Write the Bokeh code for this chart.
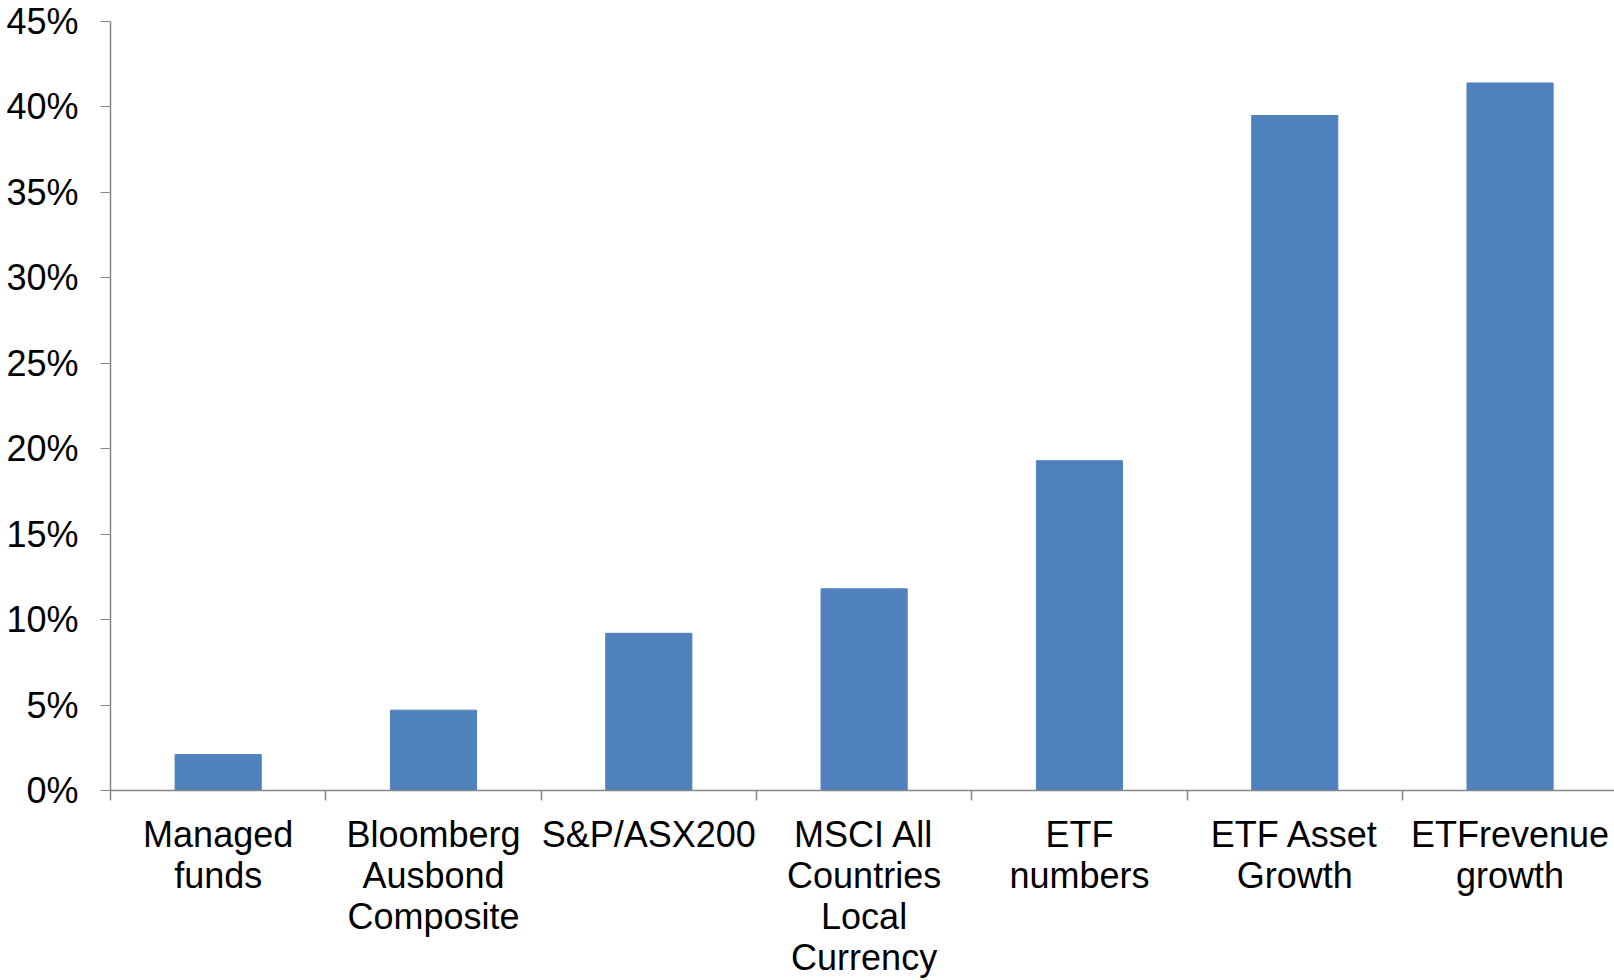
from bokeh.plotting import figure
from bokeh.models import FixedTicker, PrintfTickFormatter, Range1d, ColumnDataSource
from bokeh.embed import file_html
from bokeh.resources import INLINE

categories = ["Managed\nfunds", "Bloomberg\nAusbond\nComposite", "S&P/ASX200",
              "MSCI All\nCountries\nLocal\nCurrency", "ETF\nnumbers",
              "ETF Asset\nGrowth", "ETFrevenue\ngrowth"]
values = [2.1, 4.7, 9.2, 11.8, 19.3, 39.5, 41.4]
y_ticks = [0, 5, 10, 15, 20, 25, 30, 35, 40, 45]

xs = list(range(len(categories)))
src = ColumnDataSource(dict(x=xs, top=values))

FONT = "Liberation Sans"

p = figure(width=1614, height=980, output_backend="svg", toolbar_location=None,
           x_range=Range1d(-0.5, len(categories) - 0.515), y_range=Range1d(0, 45),
           min_border_left=110, min_border_top=21, min_border_right=0, min_border_bottom=0)
p.outline_line_color = None
p.xgrid.grid_line_color = None
p.ygrid.grid_line_color = None

p.vbar(x="x", top="top", width=0.4, bottom=0, source=src,
       fill_color="#4F81BD", line_color="#4F81BD", line_width=1)

# y axis
p.yaxis.ticker = FixedTicker(ticks=y_ticks)
p.yaxis.formatter = PrintfTickFormatter(format="%d%%")
p.yaxis.axis_line_color = "#868686"
p.yaxis.major_tick_line_color = "#868686"
p.yaxis.major_tick_in = 0
p.yaxis.major_tick_out = 10
p.yaxis.minor_tick_line_color = None
p.yaxis.major_label_standoff = 22
p.yaxis.major_label_text_font = FONT
p.yaxis.major_label_text_font_size = "36px"
p.yaxis.major_label_text_color = "black"
p.yaxis.axis_line_width = 1.5

# x axis: labels at centres, ticks at boundaries (minor)
p.xaxis.ticker = FixedTicker(ticks=xs, minor_ticks=[i - 0.5 for i in range(len(categories) + 1)])
p.xaxis.major_label_overrides = {i: c for i, c in zip(xs, categories)}
p.xaxis.major_tick_line_color = None
p.xaxis.major_tick_in = 0
p.xaxis.major_tick_out = 0
p.xaxis.minor_tick_line_color = "#868686"
p.xaxis.minor_tick_in = 0
p.xaxis.minor_tick_out = 10
p.xaxis.minor_tick_line_width = 1.5
p.xaxis.axis_line_color = "#868686"
p.xaxis.axis_line_width = 1.5
p.xaxis.major_label_standoff = 13
p.xaxis.major_label_text_font = FONT
p.xaxis.major_label_text_font_size = "36px"
p.xaxis.major_label_text_color = "black"
p.xaxis.major_label_text_line_height = 1.0

open("out.html", "w").write(file_html(p, INLINE))
